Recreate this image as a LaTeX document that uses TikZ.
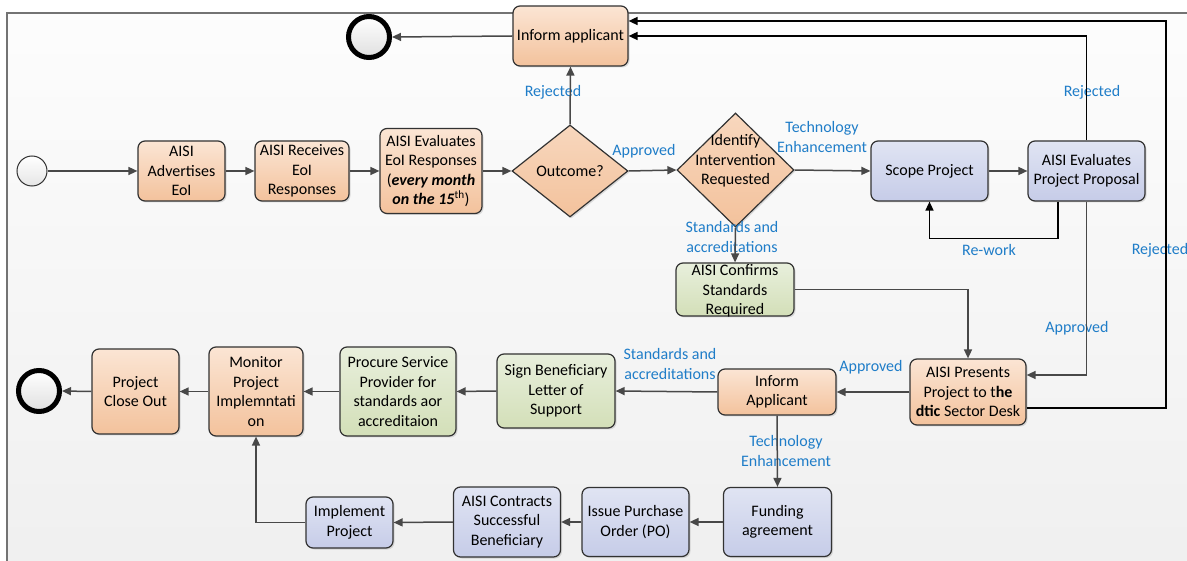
\documentclass[tikz,border=0pt]{standalone}
\usepackage{fontspec}
\setmainfont{Carlito}
\usetikzlibrary{arrows.meta,shapes.geometric,shadows,calc}
\definecolor{lblue}{RGB}{31,125,200}
\definecolor{bord}{RGB}{50,50,50}
\definecolor{otop}{RGB}{251,229,212}
\definecolor{obot}{RGB}{243,194,156}
\definecolor{gtop}{RGB}{232,239,220}
\definecolor{gbot}{RGB}{211,223,184}
\definecolor{btop}{RGB}{224,228,243}
\definecolor{bbot}{RGB}{198,204,232}
\definecolor{linec}{RGB}{72,72,72}
\tikzset{
  basebox/.style={draw=bord, line width=1.2pt, rounded corners=7pt, align=center, inner sep=0pt,
    font=\fontsize{16}{19.5}\selectfont,
    drop shadow={shadow xshift=1.5pt, shadow yshift=-1.5pt, opacity=0.25}},
  obox/.style={basebox, top color=otop, bottom color=obot},
  gbox/.style={basebox, top color=gtop, bottom color=gbot},
  bbox/.style={basebox, top color=btop, bottom color=bbot},
  odiam/.style={diamond, draw=bord, line width=1.2pt, inner sep=0pt, top color=otop!60!obot, bottom color=obot,
    drop shadow={shadow xshift=1.5pt, shadow yshift=-1.5pt, opacity=0.25}},
  txt/.style={align=center, inner sep=0pt, font=\fontsize{16}{19.5}\selectfont},
  lbl/.style={align=center, inner sep=0pt, text=lblue, font=\fontsize{16}{19.5}\selectfont},
  flow/.style={draw=linec, line width=1.5pt, -{Triangle[length=9pt,width=8pt]}},
  flowk/.style={draw=black, line width=1.5pt, -{Triangle[length=9pt,width=8pt]}},
  endev/.style={circle, draw=black, line width=5pt, minimum size=41pt, inner sep=0pt, top color=white, bottom color=gray!25},
  startev/.style={circle, draw=bord, line width=1pt, minimum size=30pt, inner sep=0pt, top color=white, bottom color=gray!20},
}
\begin{document}
\begin{tikzpicture}[x=1pt,y=-1pt]
\useasboundingbox (0,0) rectangle (1187,561);
\fill[white] (0,0) rectangle (1187,561);
\shade[top color=black!1, bottom color=black!6] (7,13) rectangle (1187,561);
\draw[black!55, line width=1.5pt] (7,561) -- (7,13) -- (1187,13);

% events
\node[startev] (start) at (32,171) {};
\node[endev] (end1) at (369,37) {};
\node[endev] (end2) at (39,391) {};

% top row
\node[obox, minimum width=115pt, minimum height=60pt] (inf1) at (570.5,36) {Inform applicant};
\node[obox, minimum width=87pt, minimum height=60pt] (adv) at (181.5,171) {AISI\\Advertises\\EoI};
\node[obox, minimum width=94pt, minimum height=60pt] (rec) at (302,171) {AISI Receives\\EoI\\Responses};
\node[obox, minimum width=102pt, minimum height=85pt] (evl) at (431,171) {AISI Evaluates\\EoI Responses\\(\textbf{\textit{every month}}\\\textbf{\textit{on the 15}}\textsuperscript{th})};
\node[odiam, minimum width=116pt, minimum height=92pt] (outc) at (570,171) {};
\node[txt] (outct) at (570,171) {Outcome?};
\node[odiam, minimum width=117pt, minimum height=114pt] (ident) at (735.5,170) {};
\node[txt] (identt) at (735.5,161) {Identify\\Intervention\\Requested};
\node[bbox, minimum width=117pt, minimum height=60pt] (scope) at (929.5,171) {Scope Project};
\node[bbox, minimum width=117pt, minimum height=60pt] (evp) at (1086.5,171) {AISI Evaluates\\Project Proposal};
\node[gbox, minimum width=118pt, minimum height=53pt] (conf) at (735,289.5) {};
\node[txt] (conft) at (735,291) {AISI Confirms\\Standards\\Required};

% middle row
\node[obox, minimum width=116pt, minimum height=66pt] (pres) at (968,392) {AISI Presents\\Project to t\textbf{he}\\\textbf{dtic} Sector Desk};
\node[obox, minimum width=118pt, minimum height=46pt] (infa) at (777,392) {Inform\\Applicant};
\node[gbox, minimum width=118pt, minimum height=74pt] (sign) at (556,391) {Sign Beneficiary\\Letter of\\Support};
\node[gbox, minimum width=116pt, minimum height=89pt] (proc) at (398,391.5) {Procure Service\\Provider for\\standards aor\\accreditaion};
\node[obox, minimum width=94pt, minimum height=89pt] (mon) at (256,391.5) {Monitor\\Project\\Implemntati\\on};
\node[obox, minimum width=87pt, minimum height=85pt] (close) at (135.5,391.5) {Project\\Close Out};

% bottom row
\node[bbox, minimum width=108pt, minimum height=69pt] (fund) at (777.5,522) {Funding\\agreement};
\node[bbox, minimum width=107pt, minimum height=69pt] (po) at (635.5,522) {Issue Purchase\\Order (PO)};
\node[bbox, minimum width=107pt, minimum height=70pt] (contr) at (507,522) {AISI Contracts\\Successful\\Beneficiary};
\node[bbox, minimum width=87pt, minimum height=51pt] (impl) at (349.5,522.5) {Implement\\Project};

% labels
\node[lbl] (l1) at (553,92) {Rejected};
\node[lbl] (l2) at (644,151) {Approved};
\node[lbl] (l3) at (822,137) {Technology\\Enhancement};
\node[lbl] (l4) at (1092,92) {Rejected};
\node[lbl] (l5) at (1160,250) {Rejected};
\node[lbl] (l6) at (989,250) {Re-work};
\node[lbl] (l7) at (1077,328) {Approved};
\node[lbl] (l8) at (732,237) {Standards and\\accreditations};
\node[lbl] (l9) at (871,367) {Approved};
\node[lbl] (l10) at (670,364) {Standards and\\accreditations};
\node[lbl] (l11) at (786,451) {Technology\\Enhancement};

\coordinate (rr) at (1166,408);

% connectors
\draw[flow] (start) -- (adv);
\draw[flow] (adv) -- (rec);
\draw[flow] (rec) -- (evl);
\draw[flow] (evl) -- (outc.west);
\draw[flow] (outc.north) -- (inf1.south);
\draw[flow] (inf1.west) -- (end1.east);
\draw[flow] (outc.east) -- (ident.west);
\draw[flow] (ident.east) -- (scope.west);
\draw[flow] (scope) -- (evp);
\draw[flowk] (evp.north) |- (inf1.east);
\draw[flowk] ([xshift=-28.5pt]evp.south) -- ++(0,37) -| (scope.south);
\draw[flow] (evp.south) |- ([yshift=17pt]pres.east);
\draw[flow] (ident.south) -- (conf.north);
\draw[flow] (conf.east) -| (pres.north);
\draw[flowk] ([yshift=-16pt]pres.east) -- (rr) |- ([yshift=15pt]inf1.east);
\draw[flow] (pres.west) -- (infa.east);
\draw[flow] (infa.west) -- (sign.east);
\draw[flow] (infa.south) -- (fund.north);
\draw[flow] (fund.west) -- (po.east);
\draw[flow] (po.west) -- (contr.east);
\draw[flow] (contr.west) -- (impl.east);
\draw[flow] (impl.west) -| (mon.south);
\draw[flow] (sign.west) -- (proc.east);
\draw[flow] (proc.west) -- (mon.east);
\draw[flow] (mon.west) -- (close.east);
\draw[flow] (close.west) -- (end2.east);
\end{tikzpicture}
\end{document}
